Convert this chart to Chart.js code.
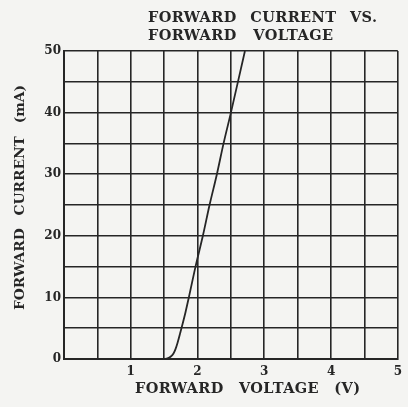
<!DOCTYPE html>
<html>
<head>
<meta charset="utf-8">
<script src="https://cdn.jsdelivr.net/npm/chart.js@4"></script>
<style>
  html, body { margin: 0; padding: 0; background: #f4f4f2; }
  #wrap { width: 408px; height: 407px; }
</style>
</head>
<body>
<div id="wrap"><canvas id="c" width="408" height="407"></canvas></div>
<script>
// ---- data ----
const voltage = [1.50, 1.55, 1.60, 1.64, 1.67, 1.70, 1.74, 1.82, 1.87, 1.97, 2.08, 2.18, 2.29, 2.39, 2.50, 2.71];
const current = [0,    0.1,  0.4,  0.9,  1.6,  2.6,  4.2,  7.6,  10,   15,   20,   25,   30,   35,   40,   50];
const xTickLabels = ['', '1', '2', '3', '4', '5'];
const yTickLabels = ['0', '10', '20', '30', '40', '50'];
const titleLines = ['FORWARD CURRENT VS.', 'FORWARD VOLTAGE'];
const xTitle = 'FORWARD VOLTAGE (V)';
const yTitle = 'FORWARD CURRENT (mA)';

const points = voltage.map((v, i) => ({ x: v, y: current[i] }));
const ink = '#262626';
const serif = '"DejaVu Serif", "Liberation Serif", serif';

// draw text with slight letter spacing; word gaps stretched to reach the given width
function fitText(ctx, text, x, y, width, font, ls) {
  ctx.font = font;
  ctx.letterSpacing = ls + 'px';
  ctx.wordSpacing = '0px';
  const w = ctx.measureText(text).width - ls;
  const spaces = (text.match(/ /g) || []).length;
  if (spaces > 0) {
    const sp = Math.max(0, (width - w) / spaces);
    ctx.wordSpacing = sp.toFixed(2) + 'px';
  }
  ctx.textAlign = 'left';
  ctx.textBaseline = 'alphabetic';
  ctx.fillText(text, x, y);
  ctx.wordSpacing = '0px';
  ctx.letterSpacing = '0px';
}

const bgPlugin = {
  id: 'bg',
  beforeDraw(chart) {
    const ctx = chart.ctx;
    ctx.save();
    ctx.fillStyle = '#f4f4f2';
    ctx.fillRect(0, 0, chart.width, chart.height);
    ctx.restore();
  }
};

const textPlugin = {
  id: 'texts',
  afterDraw(chart) {
    const ctx = chart.ctx;
    ctx.save();
    ctx.fillStyle = ink;
    const f = 'bold 14.5px ' + serif;
    fitText(ctx, titleLines[0], 148, 22, 229, f, 0.4);
    fitText(ctx, titleLines[1], 148, 40, 185, f, 0.4);
    fitText(ctx, xTitle, 135, 392.5, 225, f, 0.4);
    ctx.translate(24, 310);
    ctx.rotate(-Math.PI / 2);
    fitText(ctx, yTitle, 0, 0, 225, 'bold 13.8px ' + serif, 0);
    ctx.restore();
  }
};

new Chart(document.getElementById('c'), {
  type: 'scatter',
  data: {
    datasets: [{
      data: points,
      showLine: true,
      borderColor: ink,
      borderWidth: 1.8,
      pointRadius: 0,
      fill: false,
      cubicInterpolationMode: 'monotone'
    }]
  },
  options: {
    responsive: false,
    animation: false,
    devicePixelRatio: 1,
    layout: { padding: { top: 51, right: 4, left: 0, bottom: 0 } },
    plugins: { legend: { display: false }, tooltip: { enabled: false }, title: { display: false } },
    scales: {
      x: {
        type: 'linear',
        min: 0, max: 5,
        afterFit(s) { s.height = 48; },
        grid: { color: ink, lineWidth: 1.6, drawTicks: false },
        border: { color: ink, width: 2 },
        ticks: {
          stepSize: 0.5,
          autoSkip: false,
          maxRotation: 0,
          padding: 6,
          color: ink,
          font: { family: serif, size: 12, weight: 'bold' },
          callback: (v) => Number.isInteger(v) ? xTickLabels[v] : ''
        }
      },
      y: {
        type: 'linear',
        min: 0, max: 50,
        afterFit(s) { s.width = 64; },
        grid: { color: ink, lineWidth: 1.6, drawTicks: false },
        border: { color: ink, width: 2 },
        ticks: {
          stepSize: 5,
          autoSkip: false,
          padding: 3,
          color: ink,
          font: { family: serif, size: 12, weight: 'bold' },
          callback: (v) => (v % 10 === 0) ? yTickLabels[v / 10] : ''
        }
      }
    }
  },
  plugins: [bgPlugin, textPlugin]
});
</script>
</body>
</html>
